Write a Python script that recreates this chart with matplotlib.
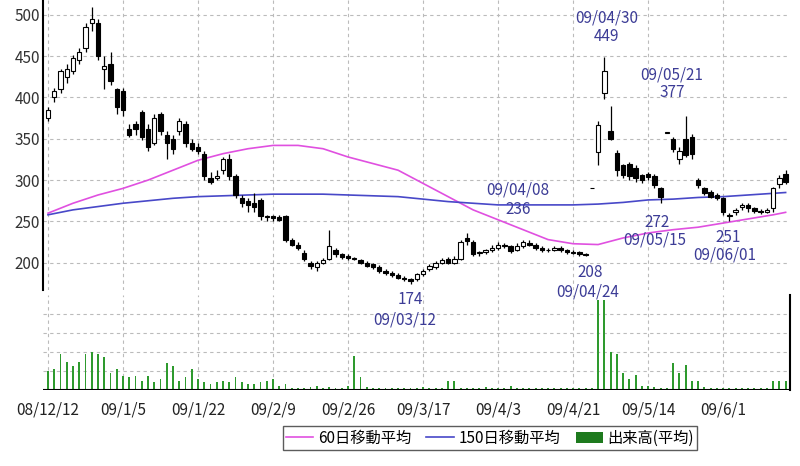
import matplotlib
matplotlib.use("Agg")
import matplotlib.pyplot as plt
import numpy as np
from matplotlib.lines import Line2D
from matplotlib.patches import Patch

plt.rcParams['font.family'] = ['Noto Sans CJK JP', 'DejaVu Sans']

opens = [375,400,410,425,432,445,460,490,490,435,440,410,
         408,362,368,382,362,345,380,355,350,360,368,345,
         340,332,302,303,312,325,305,278,275,272,276,256,
         256,255,256,228,222,212,200,195,200,205,215,210,
         208,205,203,200,198,195,190,188,185,182,180,180,
         186,192,195,200,205,200,205,230,225,212,213,215,
         218,222,220,216,220,224,222,218,215,216,218,215,
         213,213,211,290,334,405,360,333,318,320,315,306,
         308,305,290,357,350,326,350,352,300,290,286,282,
         278,258,262,268,270,266,263,262,266,295,308]
closes = [385,408,432,435,448,455,485,495,450,438,420,388,
          385,355,362,352,340,375,360,345,338,372,345,338,
          335,305,298,305,325,305,282,272,270,268,256,255,
          254,252,228,222,218,205,196,200,203,220,210,207,
          206,205,200,196,195,190,188,185,182,180,178,186,
          190,196,200,203,200,204,225,226,210,212,215,218,
          222,220,214,220,225,222,218,215,216,218,215,213,
          212,210,209,290,367,432,350,312,306,305,302,300,
          304,294,280,357,338,335,330,332,294,285,280,278,
          262,256,264,270,266,263,262,264,290,302,298]
highs = [388,412,435,440,452,460,490,510,495,450,455,412,
         412,368,372,385,368,380,382,360,355,375,372,350,
         345,335,310,312,328,332,308,282,278,285,278,258,
         258,258,258,230,225,215,202,202,206,240,218,212,
         210,207,205,202,200,197,192,190,188,184,182,188,
         192,198,202,206,207,208,227,236,228,214,217,222,
         225,224,222,224,227,227,224,220,218,220,220,217,
         215,214,212,290,372,449,390,336,320,322,318,308,
         310,308,292,357,352,340,377,356,302,292,288,284,
         280,260,266,272,272,268,265,266,292,306,312]
lows = [372,395,405,418,428,440,455,480,445,410,415,380,
        378,352,355,348,335,342,355,325,332,355,340,335,
        332,300,295,300,308,300,278,268,262,262,252,250,
        250,250,225,220,215,202,193,190,198,203,207,205,
        203,203,198,195,192,188,185,183,180,178,174,178,
        184,190,192,198,198,199,203,222,208,208,211,213,
        216,218,212,214,218,220,216,213,213,214,213,211,
        210,208,208,290,318,398,348,305,302,300,298,296,
        300,290,272,357,334,320,328,326,290,282,278,276,
        258,251,258,264,262,260,259,260,262,290,295]
volumes = [20,22,38,30,25,30,38,40,38,35,18,22,
           15,14,15,10,15,8,12,28,25,10,14,22,
           12,8,6,8,10,8,14,8,6,6,8,10,
           12,4,6,2,2,2,3,4,2,3,2,2,
           4,36,14,3,2,2,2,2,2,2,2,2,
           3,2,2,2,10,9,2,2,2,2,3,2,
           2,2,4,2,2,2,2,2,2,2,2,2,
           2,2,2,2,95,95,40,38,18,12,16,4,
           4,3,2,2,28,18,26,10,10,3,2,2,
           2,2,2,2,2,2,2,2,10,10,10]
ma_idx = [0,4,8,12,16,20,24,28,32,36,40,44,48,52,56,60,64,68,72,76,80,84,88,92,96,100,104,108,112,116,118]
ma60 = [260,272,282,290,300,312,324,332,338,342,342,338,328,320,312,296,280,264,252,240,228,223,222,230,236,240,243,248,253,258,261]
ma150 = [258,264,268,272,275,278,280,281,282,283,283,283,282,281,280,277,274,272,270,270,270,270,271,273,276,277,279,280,282,284,285]
tick_pos = [0,12,24,36,48,60,72,84,96,108]
tick_labels = ["08/12/12","09/1/5","09/1/22","09/2/9","09/2/26","09/3/17","09/4/3","09/4/21","09/5/14","09/6/1"]
notes = [(89.4,496,"09/04/30"),(89.4,474,"449"),(99.8,427,"09/05/21"),(99.8,406,"377"),
         (75.2,288,"09/04/08"),(75.2,264,"236"),(97.4,249,"272"),(97.0,228,"09/05/15"),
         (108.8,230,"251"),(108.3,209,"09/06/01"),(86.7,188,"208"),(86.4,165,"09/04/24"),
         (58,155,"174"),(57,131,"09/03/12")]

fig = plt.figure(figsize=(8,4.66), dpi=100)
ax = fig.add_axes([43/800, 1-290/466, 747/800, 290/466])
axv = fig.add_axes([43/800, 1-390/466, 747/800, 95/466])
ax.set_zorder(3)
ax.patch.set_alpha(0)
n = len(closes)
x = np.arange(n)
o = np.array(opens); c = np.array(closes)
xl = (-0.8, 118.7)
grid_kw = dict(color='#bbbbbb', linestyle=(0,(3,3)), linewidth=0.8)
for a in (ax, axv):
    a.set_xlim(*xl)
    for t in tick_pos:
        a.axvline(t, zorder=0, **grid_kw)
ax.set_ylim(167, 518)
for v in [200,250,300,350,400,450,500]:
    ax.axhline(v, zorder=0, **grid_kw)
ax.plot(ma_idx, ma60, color='#e050e0', lw=1.2, zorder=2)
ax.plot(ma_idx, ma150, color='#4848c8', lw=1.2, zorder=2)
ax.vlines(x, lows, highs, color='black', lw=0.9, zorder=3)
up = c >= o
ax.bar(x[up], np.maximum(c-o,1.0)[up], bottom=o[up], width=0.7, color='white', edgecolor='black', lw=0.8, zorder=4)
ax.bar(x[~up], (o-c)[~up], bottom=c[~up], width=0.7, color='black', edgecolor='black', lw=0.8, zorder=4)
for xx, yy, s in notes:
    ax.text(xx, yy, s, ha='center', va='center', color='#3c3c96', fontsize=11, clip_on=False, zorder=6)
ax.set_yticks([200,250,300,350,400,450,500])
ax.tick_params(axis='y', length=0, labelsize=11, labelcolor='#333333', pad=2)
ax.set_xticks([])
for s in ['top','right','bottom']:
    ax.spines[s].set_visible(False)
ax.spines['left'].set_linewidth(1.5)

axv.set_ylim(0, 100)
for v in [20,40,60,80]:
    axv.axhline(v, zorder=0, **grid_kw)
axv.bar(x, volumes, width=0.3, color='#2e9a2e', zorder=3)
axv.axhline(0, color='black', lw=1.5, zorder=4)
axv.set_yticks([])
axv.set_xticks(tick_pos)
axv.set_xticklabels(tick_labels, fontsize=11, color='#222222')
axv.tick_params(axis='x', length=0, pad=8)
for s in ['top','left','bottom']:
    axv.spines[s].set_visible(False)
axv.spines['right'].set_linewidth(1.5)

handles = [Line2D([],[],color='#e050e0',lw=1.2), Line2D([],[],color='#4848c8',lw=1.2),
           Patch(facecolor='#1e7a1e')]
fig.legend(handles, ["60日移動平均","150日移動平均","出来高(平均)"], ncol=3,
           loc='center', bbox_to_anchor=(490/800, 1-438/466), fontsize=11,
           frameon=True, fancybox=False, edgecolor='#333333', handlelength=1.8,
           handletextpad=0.3, columnspacing=1.0, borderpad=0.2)
fig.savefig("out.png", dpi=100)
